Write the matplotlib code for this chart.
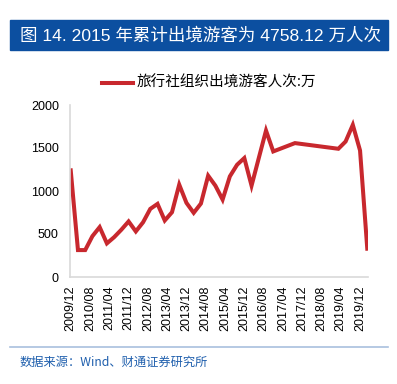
import matplotlib.pyplot as plt
from matplotlib.patches import Rectangle
from matplotlib.lines import Line2D

plt.rcParams['font.family'] = ['Liberation Sans', 'Noto Sans CJK SC', 'DejaVu Sans']

# quarterly points (some quarters missing in the source)
dates = ['2009/12', '2010/03', '2010/06', '2010/09', '2010/12', '2011/03', '2011/06', '2011/09',
         '2011/12', '2012/03', '2012/06', '2012/09', '2012/12', '2013/03', '2013/06', '2013/09',
         '2013/12', '2014/03', '2014/06', '2014/09', '2014/12', '2015/03', '2015/06', '2015/09',
         '2015/12', '2016/03', '2016/06', '2016/09', '2016/12', '2017/09', '2019/03', '2019/06',
         '2019/09', '2019/12', '2020/03']
values = [1240, 313, 313, 475, 580, 391, 463, 550,
          646, 530, 636, 792, 850, 657, 753, 1074,
          862, 746, 854, 1178, 1062, 900, 1170, 1305,
          1383, 1062, 1383, 1703, 1460, 1557, 1491, 1575,
          1769, 1471, 329]
tick_labels = ['2009/12', '2010/08', '2011/04', '2011/12', '2012/08', '2013/04', '2013/12', '2014/08',
               '2015/04', '2015/12', '2016/08', '2017/04', '2017/12', '2018/08', '2019/04', '2019/12']
series_name = '旅行社组织出境游客人次:万'
title = '图 14. 2015 年累计出境游客为 4758.12 万人次'
source = '数据来源：Wind、财通证券研究所'


def month_index(s):
    y, m = s.split('/')
    return (int(y) - 2009) * 12 + int(m) - 12


x = [month_index(d) for d in dates]
xt = [month_index(d) for d in tick_labels]

fig = plt.figure(figsize=(3.97, 3.84), dpi=100)

# title bar
fig.patches.append(Rectangle((10 / 397, 1 - 50 / 384), 378 / 397, 30 / 384,
                             transform=fig.transFigure, color='#0c4fa0', zorder=0))
fig.text(20 / 397, 1 - 35 / 384, title, color='white', fontsize=12.6,
         va='center', ha='left', family=['Liberation Sans', 'Noto Sans CJK SC'])

ax = fig.add_axes([70 / 397, 1 - 277 / 384, 298 / 397, 172 / 384])
ax.plot(x, values, color='#c8282e', lw=2.9, solid_joinstyle='miter')
ax.set_ylim(0, 2000)
ax.set_xlim(-0.3, 123.3)
ax.set_yticks([0, 500, 1000, 1500, 2000])
ax.set_xticks(xt)
ax.set_xticklabels(tick_labels, rotation=90)
ax.tick_params(length=0, labelsize=9, pad=8)
ax.tick_params(axis='x', pad=6)
for s in ['top', 'right']:
    ax.spines[s].set_visible(False)
for s in ['left', 'bottom']:
    ax.spines[s].set_color('#d9d9d9')
    ax.spines[s].set_linewidth(1.2)

# legend
fig.lines.append(Line2D([102 / 397, 133 / 397], [1 - 83 / 384, 1 - 83 / 384],
                        transform=fig.transFigure, color='#c8282e', lw=2.9))
fig.text(137 / 397, 1 - 83 / 384, series_name, fontsize=10.5, va='center', ha='left',
         family=['Noto Sans CJK SC'])

# bottom rule and source
fig.lines.append(Line2D([10 / 397, 388 / 397], [1 - 347 / 384, 1 - 347 / 384],
                        transform=fig.transFigure, color='#a9c0de', lw=1.2))
fig.text(20 / 397, 1 - 362 / 384, source, color='#1f5fad', fontsize=8.8, va='center', ha='left',
         family=['Noto Sans CJK SC', 'Liberation Sans'])

fig.savefig('out.png', dpi=100)
